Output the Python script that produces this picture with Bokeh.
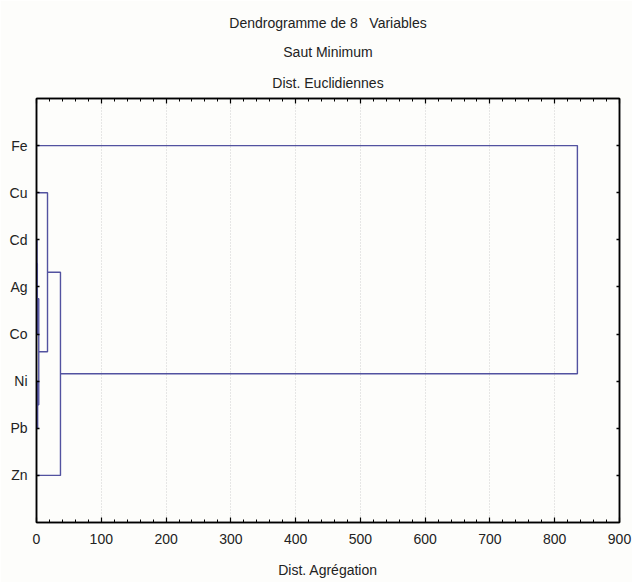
from bokeh.plotting import figure
from bokeh.models import FixedTicker, SingleIntervalTicker, LinearAxis, Title, CustomJSTickFormatter
from bokeh.embed import file_html
from bokeh.resources import INLINE

# Leaves, top to bottom
leaves = ["Fe", "Cu", "Cd", "Ag", "Co", "Ni", "Pb", "Zn"]
# Aggregation steps (single linkage): left child, right child, distance
merge_left = ["Cd", "m1", "Ni", "m2", "Cu", "m5", "Fe"]
merge_right = ["Ag", "Co", "Pb", "m3", "m4", "Zn", "m6"]
merge_dist = [0.8, 1.3, 1.8, 3.5, 17, 37, 835]

title_lines = ["Dendrogramme de 8\u00a0\u00a0\u00a0Variables", "Saut Minimum", "Dist. Euclidiennes"]
x_label = "Dist. Agrégation"

FONT = "Liberation Sans"
TXT = "#222222"
LINE = "#5252a0"
BG = "#fdfdfb"
FS = "14px"

n = len(leaves)
ypos = {name: n - i for i, name in enumerate(leaves)}
xpos = {name: 0.0 for name in leaves}

xs, ys = [], []
for k, (a, b, d) in enumerate(zip(merge_left, merge_right, merge_dist)):
    ya, yb = ypos[a], ypos[b]
    xs.append([xpos[a], d, d, xpos[b]])
    ys.append([ya, ya, yb, yb])
    node = "m%d" % (k + 1)
    ypos[node] = (ya + yb) / 2.0
    xpos[node] = d

p = figure(width=632, height=582, x_range=(0, 900), y_range=(0, n + 1),
           output_backend="svg", toolbar_location=None, title=None,
           min_border_left=36, min_border_right=13, min_border_top=98,
           min_border_bottom=60)
p.background_fill_color = BG
p.border_fill_color = BG
p.outline_line_color = "black"
p.outline_line_width = 1.5

p.multi_line(xs, ys, line_color=LINE, line_width=1.4)

blank = CustomJSTickFormatter(code="return '';")

# bottom axis
ax = p.xaxis[0]
ax.ticker = SingleIntervalTicker(interval=100, num_minor_ticks=5)
ax.axis_line_width = 1.5
ax.major_tick_in = 5
ax.major_tick_out = 0
ax.minor_tick_in = 3
ax.minor_tick_out = 0
ax.major_tick_line_width = 1.2
ax.major_label_text_font = FONT
ax.major_label_text_font_size = FS
ax.major_label_text_color = TXT
ax.major_label_standoff = 11
ax.axis_label = x_label
ax.axis_label_text_font = FONT
ax.axis_label_text_font_size = FS
ax.axis_label_text_font_style = "normal"
ax.axis_label_text_color = TXT
ax.axis_label_standoff = 15

# top axis (ticks only)
top = LinearAxis(ticker=SingleIntervalTicker(interval=100, num_minor_ticks=5),
                 formatter=blank,
                 major_tick_in=5, major_tick_out=0, minor_tick_in=3, minor_tick_out=0,
                 major_label_standoff=0, axis_line_width=1.5,
                 major_tick_line_width=1.2)
p.add_layout(top, "above")

# left axis (categories)
ay = p.yaxis[0]
ay.ticker = FixedTicker(ticks=[ypos[l] for l in leaves])
ay.major_label_overrides = {ypos[l]: l for l in leaves}
ay.axis_line_width = 1.5
ay.major_tick_in = 3
ay.major_tick_out = 0
ay.major_tick_line_width = 1.5
ay.minor_tick_line_color = None
ay.major_label_text_font = FONT
ay.major_label_text_font_size = FS
ay.major_label_text_color = TXT
ay.major_label_standoff = 9

right = LinearAxis(ticker=FixedTicker(ticks=[ypos[l] for l in leaves]),
                   formatter=blank,
                   major_tick_in=3, major_tick_out=0, minor_tick_line_color=None,
                   major_label_standoff=0, axis_line_width=1.5,
                   major_tick_line_width=1.5)
p.add_layout(right, "right")

p.xgrid.grid_line_color = "#cfcfcf"
p.xgrid.grid_line_dash = "1 2"
p.xgrid.grid_line_width = 1
p.ygrid.grid_line_color = None

# titles: added nearest-first
standoffs = [11, 11, 15]
for line, so in zip(reversed(title_lines), reversed(standoffs)):
    p.add_layout(Title(text=line, align="center", text_font=FONT,
                       text_font_size=FS, text_font_style="normal",
                       text_color=TXT, standoff=so, offset=-7), "above")

open("out.html", "w").write(file_html(p, INLINE))
